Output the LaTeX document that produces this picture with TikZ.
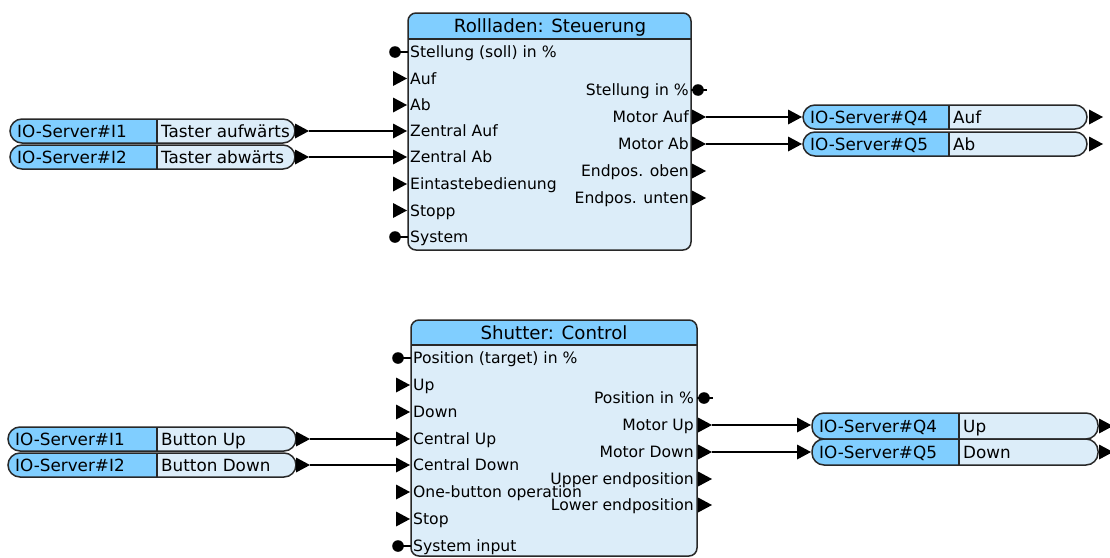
\documentclass[tikz,border=0pt]{standalone}
\usepackage{fontspec}
\setmainfont{DejaVu Sans}
\usetikzlibrary{calc}
\definecolor{hdr}{RGB}{128,206,255}
\definecolor{bdy}{RGB}{220,237,249}
\definecolor{edge}{RGB}{40,40,40}
\tikzset{
 lbl/.style={inner sep=0pt, font=\fontsize{15.6}{18}\selectfont, text height=11.4pt, text depth=0pt},
 iotxt/.style={inner sep=0pt, font=\fontsize{16.8}{19}\selectfont, text height=12.2pt, text depth=0pt},
 ttl/.style={inner sep=0pt, font=\fontsize{18.2}{21}\selectfont, text height=13.3pt, text depth=0pt},
 bord/.style={draw=edge, line width=1.5pt},
 conn/.style={line width=2pt, draw=black},
 stub/.style={line width=1.3pt, draw=black},
}
% triangle marker, tip at #1, pointing right
\newcommand\tipR[1]{\fill[black] (#1) -- ++(-14,7.5) -- ++(0,-15) -- cycle;}
% left bullet port at block edge #1
\newcommand\dotL[1]{\draw[stub] (#1) -- ++(-13,0); \fill[black] ($(#1)+(-13,0)$) circle (5.8pt);}
% right bullet port at block edge #1
\newcommand\dotR[1]{\draw[stub] (#1) -- ++(16,0); \fill[black] ($(#1)+(7,0)$) circle (5.8pt);}
% IO box: name, x1, xsplit, x2, y1, y2, text1, text2
\newcommand\iobox[8]{%
 \fill[bdy, rounded corners=12pt] (#2,#5) rectangle (#4,#6);
 \begin{scope}\clip (#2,#5) rectangle (#3,#6);
 \fill[hdr, rounded corners=12pt] (#2,#5) rectangle (#4,#6);\end{scope}
 \draw[bord] (#3,#5) -- (#3,#6);
 \draw[bord, rounded corners=12pt] (#2,#5) rectangle (#4,#6);
 \node[iotxt, anchor=west] (#1a) at ($(#2,#5)!.5!(#2,#6)+(7,0)$) {#7};
 \node[iotxt, anchor=west] (#1b) at ($(#3,#5)!.5!(#3,#6)+(4,0)$) {#8};
}
\begin{document}
\begin{tikzpicture}[x=1pt,y=-1pt]
\useasboundingbox (0,0) rectangle (1110,557);

% ---------------- top block ----------------
\fill[bdy, rounded corners=8pt] (408,13) rectangle (691,250);
\begin{scope}\clip (408,13) rectangle (691,39);
\fill[hdr, rounded corners=8pt] (408,13) rectangle (691,250);\end{scope}
\draw[bord] (408,39) -- (691,39);
\draw[bord, rounded corners=8pt] (408,13) rectangle (691,250);
\node[ttl] (t1) at (550,26) {Rollladen: Steuerung};

\node[lbl, anchor=west] (a1) at (410,52) {Stellung (soll) in \%};
\node[lbl, anchor=west] (a2) at (410,78.5) {Auf};
\node[lbl, anchor=west] (a3) at (410,105) {Ab};
\node[lbl, anchor=west] (a4) at (410,131) {Zentral Auf};
\node[lbl, anchor=west] (a5) at (410,157) {Zentral Ab};
\node[lbl, anchor=west] (a6) at (410,184) {Eintastebedienung};
\node[lbl, anchor=west] (a7) at (410,210.5) {Stopp};
\node[lbl, anchor=west] (a8) at (410,237) {System};
\node[lbl, anchor=east] (b1) at (689,90) {Stellung in \%};
\node[lbl, anchor=east] (b2) at (689,117) {Motor Auf};
\node[lbl, anchor=east] (b3) at (689,144) {Motor Ab};
\node[lbl, anchor=east] (b4) at (689,171) {Endpos. oben};
\node[lbl, anchor=east] (b5) at (689,198) {Endpos. unten};

\dotL{408,52}
\tipR{407,78.5} \tipR{407,105} \tipR{407,131} \tipR{407,157}
\tipR{407,184} \tipR{407,210.5}
\dotL{408,237}
\dotR{691,90}
\tipR{706,117} \tipR{706,144} \tipR{706,171} \tipR{706,198}

% top inputs
\iobox{ia}{10}{157}{295}{119}{143}{IO-Server\#I1}{Taster aufwärts}
\iobox{ib}{10}{157}{295}{145}{169}{IO-Server\#I2}{Taster abwärts}
\coordinate (iao) at (309,131); \tipR{iao}
\coordinate (ibo) at (309,157); \tipR{ibo}
\coordinate (a4i) at (393,131);
\coordinate (a5i) at (393,157);
\draw[conn] (iao) -- (a4i);
\draw[conn] (ibo) -- (a5i);

% top outputs
\iobox{qa}{803}{949}{1087}{105}{129}{IO-Server\#Q4}{Auf}
\iobox{qb}{803}{949}{1087}{132}{156}{IO-Server\#Q5}{Ab}
\coordinate (b2o) at (706,117);
\coordinate (b3o) at (706,144);
\coordinate (qai) at (789,117); \tipR{802,117}
\coordinate (qbi) at (789,144); \tipR{802,144}
\draw[conn] (b2o) -- (qai);
\draw[conn] (b3o) -- (qbi);
\tipR{1103,117} \tipR{1103,144}

% ---------------- bottom block ----------------
\fill[bdy, rounded corners=8pt] (411,320) rectangle (697,556);
\begin{scope}\clip (411,320) rectangle (697,345);
\fill[hdr, rounded corners=8pt] (411,320) rectangle (697,556);\end{scope}
\draw[bord] (411,345) -- (697,345);
\draw[bord, rounded corners=8pt] (411,320) rectangle (697,556);
\node[ttl] (t2) at (554,332.5) {Shutter: Control};

\node[lbl, anchor=west] (c1) at (413,358) {Position (target) in \%};
\node[lbl, anchor=west] (c2) at (413,385) {Up};
\node[lbl, anchor=west] (c3) at (413,412) {Down};
\node[lbl, anchor=west] (c4) at (413,439) {Central Up};
\node[lbl, anchor=west] (c5) at (413,465) {Central Down};
\node[lbl, anchor=west] (c6) at (413,492) {One-button operation};
\node[lbl, anchor=west] (c7) at (413,519) {Stop};
\node[lbl, anchor=west] (c8) at (413,546) {System input};
\node[lbl, anchor=east] (d1) at (694,398) {Position in \%};
\node[lbl, anchor=east] (d2) at (694,425) {Motor Up};
\node[lbl, anchor=east] (d3) at (694,452) {Motor Down};
\node[lbl, anchor=east] (d4) at (694,479) {Upper endposition};
\node[lbl, anchor=east] (d5) at (694,505) {Lower endposition};

\dotL{411,358}
\tipR{410,385} \tipR{410,412} \tipR{410,439} \tipR{410,465}
\tipR{410,492} \tipR{410,519}
\dotL{411,546}
\dotR{697,398}
\tipR{712,425} \tipR{712,452} \tipR{712,479} \tipR{712,505}

% bottom inputs
\iobox{ic}{8}{157}{296}{427}{451}{IO-Server\#I1}{Button Up}
\iobox{id}{8}{157}{296}{453}{477}{IO-Server\#I2}{Button Down}
\coordinate (ico) at (310,439); \tipR{ico}
\coordinate (ido) at (310,465); \tipR{ido}
\coordinate (c4i) at (396,439);
\coordinate (c5i) at (396,465);
\draw[conn] (ico) -- (c4i);
\draw[conn] (ido) -- (c5i);

% bottom outputs
\iobox{qc}{812}{959}{1098}{413}{439}{IO-Server\#Q4}{Up}
\iobox{qd}{812}{959}{1098}{439}{465}{IO-Server\#Q5}{Down}
\coordinate (d2o) at (712,425);
\coordinate (d3o) at (712,452);
\coordinate (qci) at (797,425); \tipR{811,425}
\coordinate (qdi) at (797,452); \tipR{811,452}
\draw[conn] (d2o) -- (qci);
\draw[conn] (d3o) -- (qdi);
\tipR{1113,426} \tipR{1113,452}
\end{tikzpicture}
\end{document}
